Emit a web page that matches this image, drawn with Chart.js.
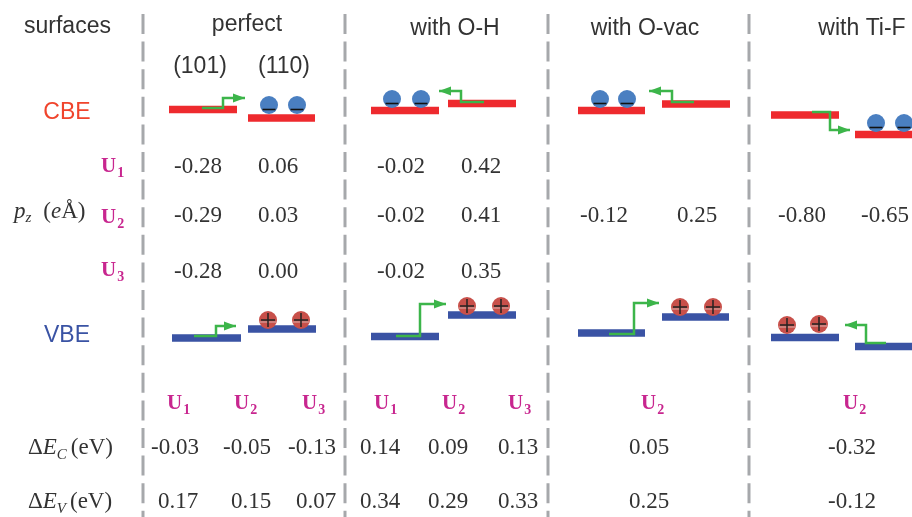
<!DOCTYPE html>
<html>
<head>
<meta charset="utf-8">
<title>Band edge alignment of surfaces</title>
<style>
  html, body { margin: 0; padding: 0; background: #fff; }
  canvas { display: block; filter: blur(0.35px); }
</style>
<script src="https://cdn.jsdelivr.net/npm/chart.js@4"></script>
</head>
<body>
<canvas id="chart" width="912" height="517"></canvas>
<script>
const columnLabels = ["perfect", "with O-H", "with O-vac", "with Ti-F"];
const facetLabels = ["(101)", "(110)"];
const bandLabels = ["CBE", "VBE"];
const rowLabels = ["U1", "U2", "U3"];

// dipole moment rows, null where the picture has no value
const pzU1 = [-0.28, 0.06, -0.02, 0.42, null, null, null, null];
const pzU2 = [-0.29, 0.03, -0.02, 0.41, -0.12, 0.25, -0.80, -0.65];
const pzU3 = [-0.28, 0.00, -0.02, 0.35, null, null, null, null];

// band offsets rows
const offsetHeads = ["U1", "U2", "U3", "U1", "U2", "U3", "U2", "U2"];
const deltaEc = [-0.03, -0.05, -0.13, 0.14, 0.09, 0.13, 0.05, -0.32];
const deltaEv = [0.17, 0.15, 0.07, 0.34, 0.29, 0.33, 0.25, -0.12];

// energy levels on the diagram axes
const cbeStart = [169, 248, 371, 448, 578, 662, 771, 855];
const cbeEnd = [237, 315, 439, 516, 645, 730, 839, 912];
const cbeLevel = [109.5, 118, 110.5, 103.5, 110.5, 104, 115, 134.5];
const vbeStart = [172, 248, 371, 448, 578, 662, 771, 855];
const vbeEnd = [241, 316, 439, 516, 645, 729, 839, 912];
const vbeLevel = [338, 329, 336.5, 315, 333, 317, 337.5, 346.5];

const electronX = [269, 297, 392, 421, 600, 627, 876, 904];
const electronY = [105, 105, 99, 99, 99, 99, 123, 123];
const holeX = [268, 301, 467, 501, 680, 713, 787, 819];
const holeY = [320, 320, 306, 306, 307, 307, 325, 324];

// carrier transfer arrows, the last point is the tip
const arrowX = [
  [202, 223, 223, 245],
  [484, 461, 461, 439],
  [694, 672, 672, 649],
  [812, 830, 830, 850],
  [194, 216, 216, 236],
  [396, 420, 420, 446],
  [609, 634, 634, 659],
  [886, 866, 866, 845],
];
const arrowY = [
  [108, 108, 98, 98],
  [102, 102, 91, 91],
  [102, 102, 91, 91],
  [112, 112, 130, 130],
  [336, 336, 326, 326],
  [336, 336, 304, 304],
  [334, 334, 303, 303],
  [343, 343, 325, 325],
];

const dividerX = [143, 345, 548, 749];
const dividerY = [14, 517];

// where the table text sits on the diagram axes
const columnCenter = [247, 455, 645, 862];
const columnBase = [31, 35, 35, 35];
const facetCenter = [200, 284];
const pzCenter = [198, 278, 401, 481, 604, 697, 802, 885];
const pzBase = [173, 222, 278];
const rowLabelBase = [172, 223, 276];
const ecCenter = [175, 247, 312, 380, 448, 518, 649, 852];
const evCenter = [178, 251, 316, 380, 448, 518, 649, 852];
const offsetHeadLeft = [167, 234, 302, 374, 442, 508, 641, 843];

const TEXT_COLOR = "#333333";
const SANS = '"Liberation Sans", Arial, sans-serif';
const SERIF = '"Liberation Serif", "Times New Roman", serif';
const MAGENTA = "#c8268f";
const GREEN = "#3cb54a";

function segments(starts, ends, levels) {
  const pts = [];
  starts.forEach((s, i) => {
    pts.push({ x: s, y: levels[i] }, { x: ends[i], y: levels[i] }, { x: ends[i], y: null });
  });
  return pts;
}

function carriers(xs, ys, shift) {
  return xs.map((x, i) => ({ x: x, y: ys[i] + shift }));
}

function lineSet(data, color, width, extra) {
  return Object.assign({
    data: data,
    showLine: true,
    borderColor: color,
    borderWidth: width,
    pointRadius: 0,
    spanGaps: false,
    tension: 0,
  }, extra || {});
}

function markSet(data, style, radius, fill, stroke, width) {
  return {
    data: data,
    showLine: false,
    pointStyle: style,
    pointRadius: radius,
    backgroundColor: fill,
    borderColor: stroke,
    borderWidth: width,
  };
}

// first dataset ends up on top
const datasets = [
  markSet(carriers(electronX, electronY, 4.5), "line", 6.5, "#111", "#111", 1.6),
  markSet(carriers(holeX, holeY, 0), "cross", 7, "#222", "#222", 1.5),
  markSet(carriers(holeX, holeY, 2), "line", 8, "#d9b0ac", "#d9b0ac", 1),
  markSet(carriers(electronX, electronY, 0), "circle", 9, "#4a7fc1", "#4a7fc1", 0),
  markSet(carriers(holeX, holeY, 0), "circle", 9, "#c8504a", "#c8504a", 0),
];
arrowX.forEach((xs, i) => {
  const pts = xs.map((x, k) => ({ x: x, y: arrowY[i][k] }));
  datasets.push(lineSet(pts, GREEN, 2.5));
});
datasets.push(lineSet(segments(cbeStart, cbeEnd, cbeLevel), "#ee2a2e", 7.5));
datasets.push(lineSet(segments(vbeStart, vbeEnd, vbeLevel), "#3a53a4", 7.5));
dividerX.forEach((x) => {
  datasets.push(lineSet(dividerY.map((y) => ({ x: x, y: y })), "#a6a8ab", 3, { borderDash: [20, 7.6] }));
});

function drawRuns(ctx, left, base, runs) {
  let x = left;
  ctx.textAlign = "left";
  ctx.textBaseline = "alphabetic";
  runs.forEach((r) => {
    ctx.font = r.font;
    ctx.fillStyle = r.color || TEXT_COLOR;
    ctx.fillText(r.text, x, base + (r.dy || 0));
    x += ctx.measureText(r.text).width + (r.gap || 0);
  });
}

function drawCentered(ctx, text, x, base, font, color) {
  ctx.font = font;
  ctx.fillStyle = color || TEXT_COLOR;
  ctx.textAlign = "center";
  ctx.textBaseline = "alphabetic";
  ctx.fillText(text, x, base);
}

function drawRowTag(ctx, label, left, base) {
  drawRuns(ctx, left, base, [
    { text: label[0], font: "bold 21px " + SERIF, color: MAGENTA, gap: 1 },
    { text: label[1], font: "bold 14px " + SERIF, color: MAGENTA, dy: 5 },
  ]);
}

const diagramText = {
  id: "diagramText",
  afterDatasetsDraw(chart) {
    const ctx = chart.ctx;
    const sx = chart.scales.x;
    const sy = chart.scales.y;
    const px = (v) => sx.getPixelForValue(v);
    const py = (v) => sy.getPixelForValue(v);
    const sans = "23px " + SANS;
    const num = "23px " + SERIF;

    ctx.save();

    // arrow heads
    arrowX.forEach((xs, i) => {
      const tip = xs[3];
      const dir = tip > xs[2] ? 1 : -1;
      const y = py(arrowY[i][3]);
      ctx.fillStyle = GREEN;
      ctx.beginPath();
      ctx.moveTo(px(tip), y);
      ctx.lineTo(px(tip - dir * 12), y - 4.5);
      ctx.lineTo(px(tip - dir * 12), y + 4.5);
      ctx.closePath();
      ctx.fill();
    });

    drawRuns(ctx, px(24), py(33), [{ text: "surfaces", font: sans }]);
    columnLabels.forEach((t, i) => drawCentered(ctx, t, px(columnCenter[i]), py(columnBase[i]), sans));
    facetLabels.forEach((t, i) => drawCentered(ctx, t, px(facetCenter[i]), py(73), sans));
    drawCentered(ctx, bandLabels[0], px(67), py(119), sans, "#f0442c");
    drawCentered(ctx, bandLabels[1], px(67), py(342), sans, "#3a53a4");

    rowLabels.forEach((t, i) => drawRowTag(ctx, t, px(101), py(rowLabelBase[i])));
    [pzU1, pzU2, pzU3].forEach((row, r) => {
      row.forEach((v, i) => {
        if (v !== null) drawCentered(ctx, v.toFixed(2), px(pzCenter[i]), py(pzBase[r]), num);
      });
    });

    drawRuns(ctx, px(14), py(218), [
      { text: "p", font: "italic 23px " + SERIF },
      { text: "z", font: "italic 15px " + SERIF, dy: 4, gap: 12 },
      { text: "(", font: "23px " + SERIF },
      { text: "e", font: "italic 23px " + SERIF },
      { text: "Å)", font: "23px " + SERIF },
    ]);

    offsetHeads.forEach((t, i) => drawRowTag(ctx, t, px(offsetHeadLeft[i]), py(409)));
    deltaEc.forEach((v, i) => drawCentered(ctx, v.toFixed(2), px(ecCenter[i]), py(454), num));
    deltaEv.forEach((v, i) => drawCentered(ctx, v.toFixed(2), px(evCenter[i]), py(508), num));

    ["C", "V"].forEach((sub, i) => {
      drawRuns(ctx, px(28), py(i === 0 ? 454 : 508), [
        { text: "Δ", font: "23px " + SERIF },
        { text: "E", font: "italic 23px " + SERIF },
        { text: sub, font: "italic 15px " + SERIF, dy: 5, gap: 4 },
        { text: "(eV)", font: "23px " + SERIF },
      ]);
    });

    ctx.restore();
  },
};

new Chart(document.getElementById("chart").getContext("2d"), {
  type: "scatter",
  data: { datasets: datasets },
  plugins: [diagramText],
  options: {
    responsive: false,
    animation: false,
    layout: { padding: 0, autoPadding: false },
    plugins: { legend: { display: false }, tooltip: { enabled: false } },
    scales: {
      x: { type: "linear", min: 0, max: 912, display: false },
      y: { type: "linear", min: 0, max: 517, reverse: true, display: false },
    },
  },
});
</script>
</body>
</html>
